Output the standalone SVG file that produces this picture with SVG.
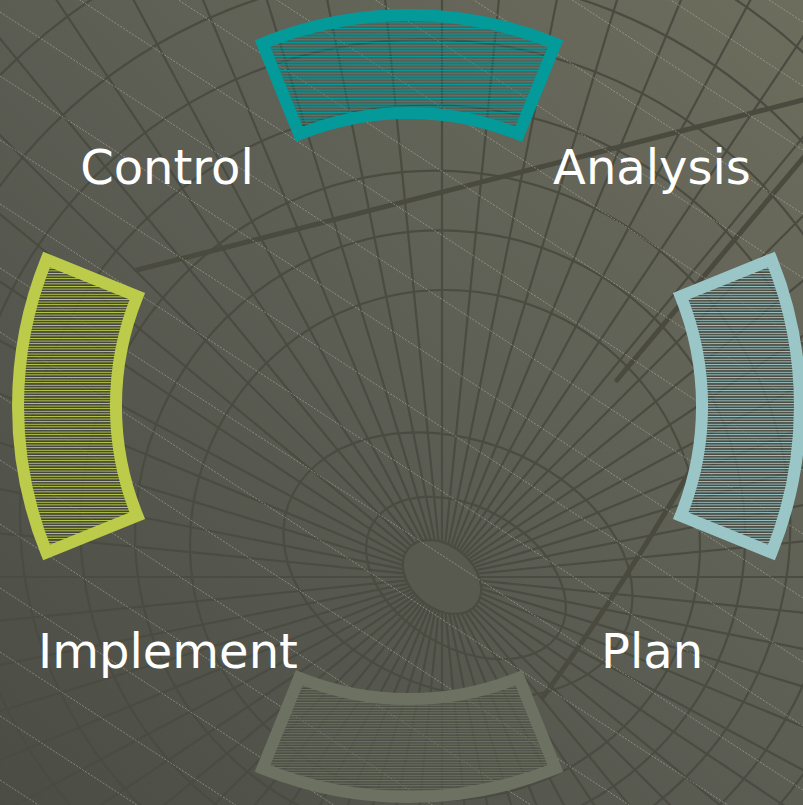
<svg xmlns="http://www.w3.org/2000/svg" xmlns:xlink="http://www.w3.org/1999/xlink" width="803" height="805" viewBox="0 0 803 805">
  <defs>
    <linearGradient id="bg" gradientUnits="userSpaceOnUse" x1="803" y1="0" x2="0" y2="805">
      <stop offset="0" stop-color="#6d6d5d"/>
      <stop offset="0.45" stop-color="#5d5f55"/>
      <stop offset="1" stop-color="#4b4d45"/>
    </linearGradient>
    <!-- narrow horizontal hatch fills, one per step colour -->
    <pattern id="hatchTeal" width="8" height="2.8" patternUnits="userSpaceOnUse">
      <rect width="8" height="1.1" fill="#049a9a"/>
      <rect y="1.5" width="8" height="0.9" fill="#4a3c36" fill-opacity="0.5"/>
    </pattern>
    <pattern id="hatchLime" width="8" height="2.6" patternUnits="userSpaceOnUse">
      <rect width="8" height="1" fill="#bccb4a"/>
      <rect y="1.1" width="8" height="1.5" fill="#3c3e36" fill-opacity="0.75"/>
    </pattern>
    <pattern id="hatchIce" width="8" height="2.6" patternUnits="userSpaceOnUse">
      <rect width="8" height="1" fill="#9bc6c7"/>
      <rect y="1.1" width="8" height="1.5" fill="#3c3e36" fill-opacity="0.7"/>
    </pattern>
    <pattern id="hatchSage" width="8" height="2.6" patternUnits="userSpaceOnUse">
      <rect width="8" height="1.1" fill="#6c7161"/>
      <rect y="1.3" width="8" height="1.2" fill="#45473f" fill-opacity="0.6"/>
    </pattern>
    <line id="spoke" x1="472" y1="577" x2="1600" y2="577"/>
    <line id="streak" x1="0" y1="0" x2="803" y2="522"/>
    <style>
      .mesh { fill: none; stroke: #4a4b41; stroke-width: 2.2; }
      .beam { fill: none; stroke: #4a4a3f; stroke-width: 5; stroke-linecap: round; }
      .streak { stroke: #d6d6c6; stroke-width: 0.8; stroke-opacity: 0.5; stroke-dasharray: 2 1.5; }
      .step { stroke-width: 12; stroke-linejoin: miter; stroke-miterlimit: 10; }
      .label { font-family: "DejaVu Sans", Verdana, sans-serif; font-size: 48px; fill: #ffffff; text-anchor: middle; }
    </style>
  </defs>

  <!-- backdrop: gradient, funnel mesh, beams and light streaks -->
  <g id="backdrop">
    <rect width="803" height="805" fill="url(#bg)"/>
    <g class="mesh">
      <use xlink:href="#spoke" transform="rotate(0 442 577)"/>
      <use xlink:href="#spoke" transform="rotate(5.625 442 577)"/>
      <use xlink:href="#spoke" transform="rotate(11.25 442 577)"/>
      <use xlink:href="#spoke" transform="rotate(16.875 442 577)"/>
      <use xlink:href="#spoke" transform="rotate(22.5 442 577)"/>
      <use xlink:href="#spoke" transform="rotate(28.125 442 577)"/>
      <use xlink:href="#spoke" transform="rotate(33.75 442 577)"/>
      <use xlink:href="#spoke" transform="rotate(39.375 442 577)"/>
      <use xlink:href="#spoke" transform="rotate(45 442 577)"/>
      <use xlink:href="#spoke" transform="rotate(50.625 442 577)"/>
      <use xlink:href="#spoke" transform="rotate(56.25 442 577)"/>
      <use xlink:href="#spoke" transform="rotate(61.875 442 577)"/>
      <use xlink:href="#spoke" transform="rotate(67.5 442 577)"/>
      <use xlink:href="#spoke" transform="rotate(73.125 442 577)"/>
      <use xlink:href="#spoke" transform="rotate(78.75 442 577)"/>
      <use xlink:href="#spoke" transform="rotate(84.375 442 577)"/>
      <use xlink:href="#spoke" transform="rotate(90 442 577)"/>
      <use xlink:href="#spoke" transform="rotate(95.625 442 577)"/>
      <use xlink:href="#spoke" transform="rotate(101.25 442 577)"/>
      <use xlink:href="#spoke" transform="rotate(106.875 442 577)"/>
      <use xlink:href="#spoke" transform="rotate(112.5 442 577)"/>
      <use xlink:href="#spoke" transform="rotate(118.125 442 577)"/>
      <use xlink:href="#spoke" transform="rotate(123.75 442 577)"/>
      <use xlink:href="#spoke" transform="rotate(129.375 442 577)"/>
      <use xlink:href="#spoke" transform="rotate(135 442 577)"/>
      <use xlink:href="#spoke" transform="rotate(140.625 442 577)"/>
      <use xlink:href="#spoke" transform="rotate(146.25 442 577)"/>
      <use xlink:href="#spoke" transform="rotate(151.875 442 577)"/>
      <use xlink:href="#spoke" transform="rotate(157.5 442 577)"/>
      <use xlink:href="#spoke" transform="rotate(163.125 442 577)"/>
      <use xlink:href="#spoke" transform="rotate(168.75 442 577)"/>
      <use xlink:href="#spoke" transform="rotate(174.375 442 577)"/>
      <use xlink:href="#spoke" transform="rotate(180 442 577)"/>
      <use xlink:href="#spoke" transform="rotate(185.625 442 577)"/>
      <use xlink:href="#spoke" transform="rotate(191.25 442 577)"/>
      <use xlink:href="#spoke" transform="rotate(196.875 442 577)"/>
      <use xlink:href="#spoke" transform="rotate(202.5 442 577)"/>
      <use xlink:href="#spoke" transform="rotate(208.125 442 577)"/>
      <use xlink:href="#spoke" transform="rotate(213.75 442 577)"/>
      <use xlink:href="#spoke" transform="rotate(219.375 442 577)"/>
      <use xlink:href="#spoke" transform="rotate(225 442 577)"/>
      <use xlink:href="#spoke" transform="rotate(230.625 442 577)"/>
      <use xlink:href="#spoke" transform="rotate(236.25 442 577)"/>
      <use xlink:href="#spoke" transform="rotate(241.875 442 577)"/>
      <use xlink:href="#spoke" transform="rotate(247.5 442 577)"/>
      <use xlink:href="#spoke" transform="rotate(253.125 442 577)"/>
      <use xlink:href="#spoke" transform="rotate(258.75 442 577)"/>
      <use xlink:href="#spoke" transform="rotate(264.375 442 577)"/>
      <use xlink:href="#spoke" transform="rotate(270 442 577)"/>
      <use xlink:href="#spoke" transform="rotate(275.625 442 577)"/>
      <use xlink:href="#spoke" transform="rotate(281.25 442 577)"/>
      <use xlink:href="#spoke" transform="rotate(286.875 442 577)"/>
      <use xlink:href="#spoke" transform="rotate(292.5 442 577)"/>
      <use xlink:href="#spoke" transform="rotate(298.125 442 577)"/>
      <use xlink:href="#spoke" transform="rotate(303.75 442 577)"/>
      <use xlink:href="#spoke" transform="rotate(309.375 442 577)"/>
      <use xlink:href="#spoke" transform="rotate(315 442 577)"/>
      <use xlink:href="#spoke" transform="rotate(320.625 442 577)"/>
      <use xlink:href="#spoke" transform="rotate(326.25 442 577)"/>
      <use xlink:href="#spoke" transform="rotate(331.875 442 577)"/>
      <use xlink:href="#spoke" transform="rotate(337.5 442 577)"/>
      <use xlink:href="#spoke" transform="rotate(343.125 442 577)"/>
      <use xlink:href="#spoke" transform="rotate(348.75 442 577)"/>
      <use xlink:href="#spoke" transform="rotate(354.375 442 577)"/>
      <ellipse cx="442" cy="577" rx="44" ry="31" transform="rotate(40 442 577)" fill="#585a50"/>
      <ellipse cx="466" cy="578" rx="108" ry="70" transform="rotate(30 466 578)"/>
      <ellipse cx="458" cy="565" rx="180" ry="125" transform="rotate(20 458 565)"/>
      <circle cx="445" cy="545" r="255"/>
      <circle cx="440.1" cy="535.3" r="305"/>
      <circle cx="435.3" cy="525.6" r="355"/>
      <circle cx="430" cy="515" r="410"/>
      <circle cx="424.6" cy="504.3" r="465"/>
      <circle cx="419.3" cy="493.6" r="520"/>
      <circle cx="413.5" cy="482" r="580"/>
      <circle cx="407.7" cy="470.3" r="640"/>
      <circle cx="401.8" cy="458.7" r="700"/>
      <circle cx="395.5" cy="446" r="765"/>
      <circle cx="389.2" cy="433.5" r="830"/>
    </g>
    <path class="beam" d="M137 270 L803 100"/>
    <path class="beam" d="M617 380 L803 158"/>
    <path class="beam" d="M543 697 Q625 585 705 445"/>
    <g class="streak">
      <use xlink:href="#streak" transform="translate(0 -500)"/>
      <use xlink:href="#streak" transform="translate(0 -436)"/>
      <use xlink:href="#streak" transform="translate(0 -372)"/>
      <use xlink:href="#streak" transform="translate(0 -308)"/>
      <use xlink:href="#streak" transform="translate(0 -244)"/>
      <use xlink:href="#streak" transform="translate(0 -180)"/>
      <use xlink:href="#streak" transform="translate(0 -116)"/>
      <use xlink:href="#streak" transform="translate(0 -52)"/>
      <use xlink:href="#streak" transform="translate(0 12)"/>
      <use xlink:href="#streak" transform="translate(0 76)"/>
      <use xlink:href="#streak" transform="translate(0 140)"/>
      <use xlink:href="#streak" transform="translate(0 204)"/>
      <use xlink:href="#streak" transform="translate(0 268)"/>
      <use xlink:href="#streak" transform="translate(0 332)"/>
      <use xlink:href="#streak" transform="translate(0 396)"/>
      <use xlink:href="#streak" transform="translate(0 460)"/>
      <use xlink:href="#streak" transform="translate(0 524)"/>
      <use xlink:href="#streak" transform="translate(0 588)"/>
      <use xlink:href="#streak" transform="translate(0 652)"/>
      <use xlink:href="#streak" transform="translate(0 716)"/>
      <use xlink:href="#streak" transform="translate(0 780)"/>
    </g>
  </g>

  <!-- cycle steps: ring sectors around (409,406), r 293..391, 44 degrees each -->
  <g id="step-analysis">
    <path class="step" fill="url(#hatchTeal)" stroke="#049a9a" d="M262.5 43.5 A391 391 0 0 1 555.5 43.5 L518.8 134.3 A293 293 0 0 0 299.2 134.3 Z"/>
    <text class="label" x="652" y="184">Analysis</text>
  </g>
  <g id="step-plan">
    <path class="step" fill="url(#hatchIce)" stroke="#9bc6c7" d="M771.5 259.5 A391 391 0 0 1 771.5 552.5 L680.7 515.8 A293 293 0 0 0 680.7 296.2 Z"/>
    <text class="label" x="652" y="668">Plan</text>
  </g>
  <g id="step-implement">
    <path class="step" fill="url(#hatchSage)" stroke="#6c7161" d="M555.5 768.5 A391 391 0 0 1 262.5 768.5 L299.2 677.7 A293 293 0 0 0 518.8 677.7 Z"/>
    <text class="label" x="168" y="668">Implement</text>
  </g>
  <g id="step-control">
    <path class="step" fill="url(#hatchLime)" stroke="#bccb4a" d="M46.5 552.5 A391 391 0 0 1 46.5 259.5 L137.3 296.2 A293 293 0 0 0 137.3 515.8 Z"/>
    <text class="label" x="167" y="184">Control</text>
  </g>
</svg>
